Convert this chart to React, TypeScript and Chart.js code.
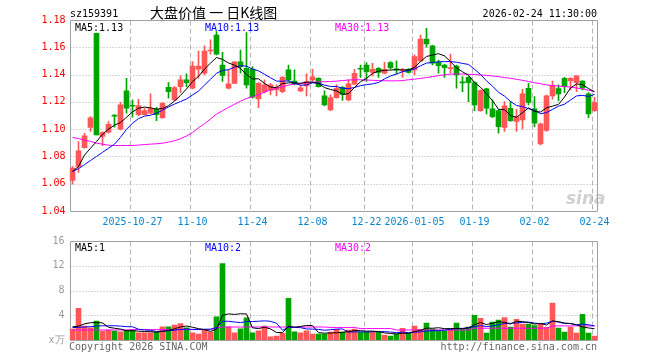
import React, { useEffect, useRef } from 'react';
import { Chart, registerables } from 'chart.js';

Chart.register(...registerables);

const MONO = '"DejaVu Sans Mono", monospace';
const CJK = '"Noto Sans CJK SC", sans-serif';

const dates = [
  '2025-10-13','2025-10-14','2025-10-15','2025-10-16','2025-10-17','2025-10-20','2025-10-21','2025-10-22','2025-10-23','2025-10-24',
  '2025-10-27','2025-10-28','2025-10-29','2025-10-30','2025-10-31','2025-11-03','2025-11-04','2025-11-05','2025-11-06','2025-11-07',
  '2025-11-10','2025-11-11','2025-11-12','2025-11-13','2025-11-14','2025-11-17','2025-11-18','2025-11-19','2025-11-20','2025-11-21',
  '2025-11-24','2025-11-25','2025-11-26','2025-11-27','2025-11-28','2025-12-01','2025-12-02','2025-12-03','2025-12-04','2025-12-05',
  '2025-12-08','2025-12-09','2025-12-10','2025-12-11','2025-12-15','2025-12-16','2025-12-17','2025-12-18','2025-12-19',
  '2025-12-22','2025-12-23','2025-12-24','2025-12-25','2025-12-26','2025-12-29','2025-12-30','2025-12-31',
  '2026-01-05','2026-01-06','2026-01-07','2026-01-08','2026-01-09','2026-01-12','2026-01-13','2026-01-14','2026-01-15','2026-01-16',
  '2026-01-19','2026-01-20','2026-01-21','2026-01-22','2026-01-23','2026-01-26','2026-01-27','2026-01-28','2026-01-29','2026-01-30',
  '2026-02-02','2026-02-03','2026-02-04','2026-02-05','2026-02-06','2026-02-09','2026-02-10','2026-02-11','2026-02-12','2026-02-13',
  '2026-02-24',
];

const opens = [
  1.0624,1.0726,1.0865,1.1012,1.1702,1.0946,1.0978,1.1100,1.1000,1.1280,
  1.1173,1.1107,1.1107,1.1117,1.1146,1.1085,1.1307,1.1214,1.1312,1.1361,
  1.1300,1.1439,1.1410,1.1573,1.1690,1.1470,1.1300,1.1336,1.1493,1.1446,
  1.1439,1.1222,1.1275,1.1283,1.1288,1.1275,1.1434,1.1353,1.1280,1.1317,
  1.1361,1.1373,1.1244,1.1141,1.1231,1.1306,1.1214,1.1329,1.1444,1.1470,
  1.1415,1.1446,1.1410,1.1488,1.1441,1.1427,1.1439,1.1434,1.1500,1.1661,
  1.1610,1.1490,1.1470,1.1444,1.1463,1.1344,1.1380,1.1341,1.1136,1.1295,
  1.1149,1.1136,1.1012,1.1153,1.1056,1.1068,1.1300,1.1149,1.0892,1.0990,
  1.1244,1.1297,1.1373,1.1353,1.1341,1.1353,1.1258,1.1136,
];
const highs = [
  1.0726,1.0909,1.0970,1.1092,1.1705,1.0982,1.1056,1.1105,1.1197,1.1373,
  1.1214,1.1219,1.1153,1.1258,1.1158,1.1195,1.1341,1.1312,1.1390,1.1405,
  1.1495,1.1573,1.1610,1.1654,1.1715,1.1563,1.1434,1.1495,1.1580,1.1707,
  1.1458,1.1341,1.1361,1.1336,1.1324,1.1385,1.1470,1.1434,1.1324,1.1405,
  1.1439,1.1378,1.1280,1.1251,1.1324,1.1312,1.1361,1.1439,1.1470,1.1488,
  1.1483,1.1451,1.1490,1.1495,1.1500,1.1446,1.1444,1.1544,1.1690,1.1739,
  1.1615,1.1507,1.1475,1.1551,1.1470,1.1385,1.1385,1.1349,1.1288,1.1300,
  1.1214,1.1141,1.1202,1.1202,1.1146,1.1292,1.1336,1.1239,1.1044,1.1249,
  1.1353,1.1324,1.1380,1.1378,1.1390,1.1356,1.1268,1.1234,
];
const lows = [
  1.0597,1.0683,1.0860,1.0983,1.0957,1.0878,1.0970,1.1014,1.0995,1.1117,
  1.1087,1.1097,1.1105,1.1114,1.1063,1.1078,1.1227,1.1209,1.1268,1.1312,
  1.1295,1.1373,1.1397,1.1549,1.1544,1.1349,1.1295,1.1334,1.1410,1.1300,
  1.1227,1.1158,1.1263,1.1251,1.1244,1.1268,1.1349,1.1324,1.1275,1.1244,
  1.1349,1.1307,1.1171,1.1136,1.1227,1.1211,1.1207,1.1324,1.1380,1.1349,
  1.1390,1.1380,1.1405,1.1441,1.1405,1.1380,1.1410,1.1397,1.1495,1.1600,
  1.1470,1.1410,1.1380,1.1410,1.1300,1.1275,1.1202,1.1136,1.1129,1.1112,
  1.1085,1.0970,1.0983,1.1056,1.0983,1.1002,1.1178,1.1019,1.0885,1.0983,
  1.1219,1.1207,1.1268,1.1288,1.1275,1.1288,1.1085,1.1129,
];
const closes = [
  1.0714,1.0841,1.0951,1.1083,1.0957,1.0975,1.1036,1.1095,1.1178,1.1153,
  1.1168,1.1173,1.1136,1.1151,1.1107,1.1190,1.1275,1.1305,1.1361,1.1341,
  1.1463,1.1463,1.1573,1.1578,1.1549,1.1393,1.1332,1.1493,1.1458,1.1324,
  1.1234,1.1336,1.1324,1.1324,1.1305,1.1380,1.1361,1.1329,1.1302,1.1349,
  1.1383,1.1312,1.1178,1.1231,1.1300,1.1255,1.1332,1.1410,1.1439,1.1422,
  1.1439,1.1415,1.1439,1.1451,1.1434,1.1432,1.1415,1.1532,1.1661,1.1624,
  1.1483,1.1466,1.1451,1.1449,1.1397,1.1339,1.1341,1.1178,1.1283,1.1153,
  1.1092,1.1019,1.1170,1.1063,1.1092,1.1258,1.1195,1.1044,1.1039,1.1244,
  1.1322,1.1258,1.1312,1.1373,1.1390,1.1300,1.1112,1.1195,
];
// volume, in units of 万
const volumes = [
  1.76,5.12,2.24,1.97,3.04,1.44,1.60,1.44,1.33,1.60,
  1.60,1.17,1.17,1.17,1.23,2.13,2.13,2.40,2.67,1.97,
  1.17,0.96,1.60,1.28,3.73,12.37,2.13,1.17,1.81,3.57,
  1.17,1.49,2.24,0.53,0.64,1.07,6.72,1.33,1.17,1.49,
  0.96,0.96,0.96,1.28,1.71,1.28,1.60,1.76,1.23,1.28,
  1.28,1.23,0.80,0.64,0.96,1.87,1.07,2.24,1.71,2.72,
  1.76,1.49,1.49,1.76,2.72,1.76,2.08,4.00,3.52,1.12,
  2.88,3.20,3.63,2.08,3.36,2.56,2.56,2.35,2.56,2.03,
  5.95,1.92,1.28,2.08,1.12,4.16,1.12,0.64,
];
// MA30 lines (their history starts before the window)
const priceMa30 = [
  1.0940,1.0930,1.0920,1.0910,1.0897,1.0890,1.0882,1.0880,1.0880,1.0880,
  1.0880,1.0883,1.0887,1.0890,1.0893,1.0897,1.0905,1.0915,1.0930,1.0950,
  1.0975,1.1010,1.1040,1.1075,1.1110,1.1135,1.1160,1.1182,1.1205,1.1225,
  1.1238,1.1252,1.1272,1.1288,1.1300,1.1312,1.1322,1.1330,1.1336,1.1340,
  1.1344,1.1346,1.1348,1.1349,1.1352,1.1356,1.1360,1.1362,1.1362,1.1360,
  1.1358,1.1356,1.1355,1.1354,1.1354,1.1356,1.1362,1.1366,1.1372,1.1378,
  1.1385,1.1392,1.1398,1.1403,1.1405,1.1404,1.1402,1.1400,1.1397,1.1394,
  1.1390,1.1385,1.1378,1.1373,1.1365,1.1358,1.1349,1.1340,1.1333,1.1324,
  1.1320,1.1316,1.1312,1.1308,1.1302,1.1295,1.1285,1.1275,
];
const volumeMa30 = [
  1.62,1.62,1.62,1.62,1.62,1.62,1.62,1.62,1.62,1.62,
  1.68,1.68,1.68,1.68,1.68,1.68,1.68,1.68,1.68,1.68,
  1.68,1.68,1.68,1.68,1.95,2.10,2.10,2.10,2.10,2.10,
  2.10,2.10,2.10,2.10,2.10,2.10,2.10,2.10,2.10,2.10,
  2.10,2.10,2.10,2.03,2.03,2.03,2.03,2.03,1.85,1.85,
  1.85,1.85,1.85,1.85,1.62,1.62,1.62,1.62,1.62,1.62,
  1.62,1.62,1.62,1.62,1.62,1.62,1.62,1.90,1.90,1.90,
  1.90,1.90,1.90,1.90,1.90,1.90,1.90,1.90,1.90,1.90,
  2.28,2.28,2.28,2.28,2.28,2.28,2.28,2.28,
];
// first points of MA5 / MA10 (earlier days are outside the window)
const priceMa5Head = [1.0690, 1.0726, 1.0810, 1.0860];
const priceMa10Head = [1.0690, 1.0710, 1.0740, 1.0770, 1.0800, 1.0830, 1.0860, 1.0890, 1.0940];
const volumeMa5Head = [2.13, 2.24, 2.60, 2.80];
const volumeMa10Head = [2.00, 2.05, 2.10, 2.15, 2.25, 2.30, 2.30, 2.30, 2.25];

const tickDates = ['2025-10-27','2025-11-10','2025-11-24','2025-12-08','2025-12-22','2026-01-05','2026-01-19','2026-02-02','2026-02-24'];
const tickTexts = ['2025-10-27','11-10','11-24','12-08','12-22','2026-01-05','01-19','02-02','02-24'];

const UP = '#ff5757';
const DOWN = '#00a300';

function movingAverage(values: number[], n: number, head: number[]) {
  return values.map((_, i) => {
    if (i < n - 1) return head[i];
    let s = 0;
    for (let k = i - n + 1; k <= i; k++) s += values[k];
    return s / n;
  });
}

const tickIndex = tickDates.map((d) => dates.indexOf(d));
const candleColors = closes.map((c, i) => (c >= opens[i] ? UP : DOWN));

const framePlugin = {
  id: 'sinaFrame',
  beforeDatasetsDraw(chart: any) {
    const { ctx, chartArea: a, scales } = chart;
    const xs = scales.x;
    const ys = scales.y;
    const L = Math.round(a.left) + 0.5;
    const R = Math.floor(a.right) + 0.5;
    const T = Math.round(a.top) + 0.5;
    const B = Math.round(a.bottom) + 0.5;
    ctx.save();
    ctx.lineWidth = 1;
    ctx.strokeStyle = '#b4b4b4';
    ctx.setLineDash([1, 2]);
    ys.ticks.forEach((t: any) => {
      if (t.value <= ys.min + 1e-6 || t.value >= ys.max - 1e-6) return;
      const py = Math.round(ys.getPixelForValue(t.value)) + 0.5;
      ctx.beginPath();
      ctx.moveTo(L, py);
      ctx.lineTo(R, py);
      ctx.stroke();
    });
    ctx.setLineDash([5, 3]);
    tickIndex.forEach((i) => {
      const px = Math.floor(xs.getPixelForValue(i)) - 2 + 0.5;
      ctx.beginPath();
      ctx.moveTo(px, T);
      ctx.lineTo(px, B);
      ctx.stroke();
    });
    ctx.setLineDash([]);
    ctx.strokeStyle = '#a0a0a0';
    ctx.beginPath();
    ctx.rect(L, T, R - L, B - T);
    ctx.stroke();
    ctx.restore();
  },
};

function lineDs(label: string, data: number[], color: string) {
  return {
    type: 'line' as const,
    label,
    data,
    borderColor: color,
    borderWidth: 1,
    pointRadius: 0,
    tension: 0,
    fill: false,
    order: 0,
  };
}

function priceConfig(): any {
  return {
    type: 'bar',
    data: {
      labels: dates,
      datasets: [
        lineDs('MA5', movingAverage(closes, 5, priceMa5Head), '#000000'),
        lineDs('MA10', movingAverage(closes, 10, priceMa10Head), '#0000ff'),
        lineDs('MA30', priceMa30, '#ff00ff'),
        {
          type: 'bar',
          label: 'body',
          data: opens.map((o, i) => [o, closes[i]]),
          backgroundColor: candleColors,
          barThickness: 5,
          minBarLength: 1,
          grouped: false,
          order: 1,
        },
        {
          type: 'bar',
          label: 'wick',
          data: lows.map((l, i) => [l, highs[i]]),
          backgroundColor: candleColors,
          barThickness: 1,
          grouped: false,
          order: 2,
        },
      ],
    },
    options: {
      responsive: false,
      animation: false,
      devicePixelRatio: 1,
      events: [],
      layout: { padding: { top: 20, right: 62.5, left: 0, bottom: 0 } },
      plugins: { legend: { display: false }, tooltip: { enabled: false } },
      scales: {
        x: {
          type: 'category',
          offset: true,
          grid: { display: false, drawTicks: false },
          border: { display: false },
          ticks: {
            autoSkip: false,
            maxRotation: 0,
            minRotation: 0,
            padding: 5,
            color: '#0a86d0',
            font: { family: MONO, size: 10 },
            callback: (_v: any, i: number) => {
              const k = tickIndex.indexOf(i);
              return k >= 0 ? tickTexts[k] : '';
            },
          },
          afterFit: (s: any) => {
            s.height = 19;
          },
        },
        y: {
          min: 1.04,
          max: 1.18,
          grid: { display: false, drawTicks: false },
          border: { display: false },
          ticks: {
            stepSize: 0.02,
            padding: 4,
            color: '#ff0000',
            font: { family: MONO, size: 10 },
            callback: (v: any) => Number(v).toFixed(2),
          },
          afterFit: (s: any) => {
            s.width = 69.5;
          },
        },
      },
    },
    plugins: [framePlugin],
  };
}

function volumeConfig(): any {
  return {
    type: 'bar',
    data: {
      labels: dates,
      datasets: [
        lineDs('MA5', movingAverage(volumes, 5, volumeMa5Head), '#000000'),
        lineDs('MA10', movingAverage(volumes, 10, volumeMa10Head), '#0000ff'),
        lineDs('MA30', volumeMa30, '#ff00ff'),
        {
          type: 'bar',
          label: 'volume',
          data: volumes,
          backgroundColor: candleColors,
          barThickness: 5,
          grouped: false,
          order: 1,
        },
      ],
    },
    options: {
      responsive: false,
      animation: false,
      devicePixelRatio: 1,
      events: [],
      layout: { padding: { top: 10, right: 62.5, left: 0, bottom: 20 } },
      plugins: { legend: { display: false }, tooltip: { enabled: false } },
      scales: {
        x: {
          type: 'category',
          offset: true,
          display: false,
        },
        y: {
          min: 0,
          max: 16,
          grid: { display: false, drawTicks: false },
          border: { display: false },
          ticks: {
            stepSize: 4,
            padding: 5,
            color: '#999999',
            font: { family: MONO, size: 10 },
            callback: (v: any) => (Number(v) === 0 ? 'x万' : String(v)),
          },
          afterFit: (s: any) => {
            s.width = 69.5;
          },
        },
      },
    },
    plugins: [framePlugin],
  };
}

function Txt(props: { x: number; y: number; text: string; color?: string; size?: number; family?: string; right?: boolean; extra?: any }) {
  const { x, y, text, color = '#000', size = 10, family = MONO, right = false, extra = {} } = props;
  const style: any = {
    position: 'absolute',
    top: y,
    transform: 'translateY(-50%)',
    color,
    fontSize: size,
    fontFamily: family,
    whiteSpace: 'pre',
    lineHeight: 'normal',
    ...extra,
  };
  if (right) style.right = 660 - x;
  else style.left = x;
  return <div style={style}>{text}</div>;
}

export default function App() {
  const priceRef = useRef<HTMLCanvasElement>(null);
  const volRef = useRef<HTMLCanvasElement>(null);

  useEffect(() => {
    const pc = new Chart(priceRef.current as HTMLCanvasElement, priceConfig());
    const vc = new Chart(volRef.current as HTMLCanvasElement, volumeConfig());
    return () => {
      pc.destroy();
      vc.destroy();
    };
  }, []);

  return (
    <div style={{ position: 'absolute', left: 0, top: 0, width: 660, height: 360, background: '#fff', overflow: 'hidden' }}>
      <canvas ref={priceRef} width={660} height={230} style={{ position: 'absolute', left: 0, top: 0 }} />
      <canvas ref={volRef} width={660} height={130} style={{ position: 'absolute', left: 0, top: 230 }} />
      <Txt x={70} y={13} text="sz159391" />
      <Txt x={150} y={12} text="大盘价值 一 日K线图" size={14} family={CJK} />
      <Txt x={597} y={13} text="2026-02-24 11:30:00" right />
      <Txt x={75} y={26.5} text="MA5:1.13" />
      <Txt x={205} y={26.5} text="MA10:1.13" color="#0000ff" />
      <Txt x={335} y={26.5} text="MA30:1.13" color="#ff00ff" />
      <Txt x={566} y={198} text="sina" size={17} family='"DejaVu Sans", sans-serif' color="rgba(170,170,170,0.55)" extra={{ fontStyle: 'italic', fontWeight: 'bold' }} />
      <Txt x={75} y={246.5} text="MA5:1" />
      <Txt x={205} y={246.5} text="MA10:2" color="#0000ff" />
      <Txt x={335} y={246.5} text="MA30:2" color="#ff00ff" />
      <Txt x={69} y={345.5} text="Copyright 2026 SINA.COM" color="#666" />
      <Txt x={597} y={345.5} text="http://finance.sina.com.cn" color="#666" right />
    </div>
  );
}
